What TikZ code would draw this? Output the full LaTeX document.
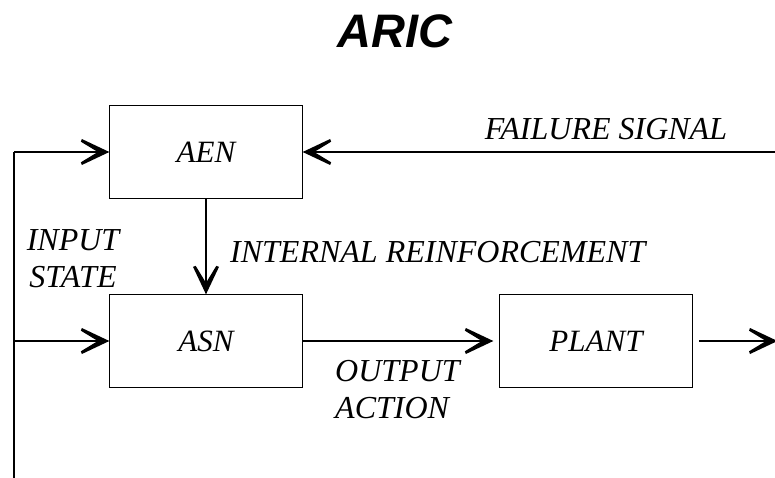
\documentclass[tikz,border=0pt]{standalone}
\usepackage{fontspec}
\setmainfont{Liberation Serif}
\newfontfamily\titlefont{Liberation Sans}
\usetikzlibrary{arrows.meta}

% a solid chevron head: barbs thick at the tip, thinning towards their ends
\pgfdeclarearrow{
  name = Chevron,
  parameters = {},
  setup code = {
    \pgfarrowssettipend{0pt}
    \pgfarrowssetlineend{-9pt}
    \pgfarrowssetbackend{-28pt}
    \pgfarrowshullpoint{0pt}{0pt}
    \pgfarrowsupperhullpoint{-27pt}{13pt}
    \pgfarrowsupperhullpoint{-28pt}{10pt}
  },
  drawing code = {
    \pgfpathmoveto{\pgfqpoint{0.5pt}{0pt}}
    \pgfpathlineto{\pgfqpoint{-27pt}{13pt}}
    \pgfpathlineto{\pgfqpoint{-28pt}{10.3pt}}
    \pgfpathlineto{\pgfqpoint{-11pt}{0pt}}
    \pgfpathlineto{\pgfqpoint{-28pt}{-10.3pt}}
    \pgfpathlineto{\pgfqpoint{-27pt}{-13pt}}
    \pgfpathclose
    \pgfusepathqfill
  }
}

\begin{document}
\begin{tikzpicture}[x=1pt,y=-1pt,
  block/.style={draw, line width=1.3pt, minimum width=193pt, minimum height=93pt,
    inner sep=0pt, font=\itshape\fontsize{31}{31}\selectfont},
  lbl/.style={inner sep=0pt, font=\itshape\fontsize{32}{37}\selectfont},
  wire/.style={line width=1.3pt},
  flow/.style={wire, -{Chevron}}
]
\useasboundingbox (0,0) rectangle (775,478);

% title
\node[font=\titlefont\bfseries\itshape\fontsize{47}{47}\selectfont] (title) at (395,31) {ARIC};

% blocks
\node[block] (aen) at (206,152) {AEN};
\node[block] (asn) at (206,341) {ASN};
\node[block] (plant) at (596,341) {PLANT};

% free ends of the feedback lines
\coordinate (bl) at (14,478);
\coordinate (tl) at (14,152);
\coordinate (il) at (14,341);
\coordinate (fs) at (776,152);
\coordinate (out) at (777,341);

% connectors
\draw[wire] (bl) -- (tl);
\draw[flow] (tl) -- (aen.west);
\draw[flow] (il) -- (asn.west);
\draw[flow] (fs) -- (aen.east);
\draw[flow] (aen.south) -- (asn.north);
\draw[flow, shorten >=6pt] (asn.east) -- (plant.west);
\draw[flow, shorten <=6pt] (plant.east) -- (out);

% labels
\node[lbl] (fail) at (606,129) {FAILURE SIGNAL};
\node[lbl, anchor=west] (ir) at (230,252) {INTERNAL REINFORCEMENT};
\node[lbl, align=center] (ins) at (73,259) {INPUT\\STATE};
\node[lbl, align=left, anchor=west] (oa) at (335,390) {OUTPUT\\ACTION};
\end{tikzpicture}
\end{document}
